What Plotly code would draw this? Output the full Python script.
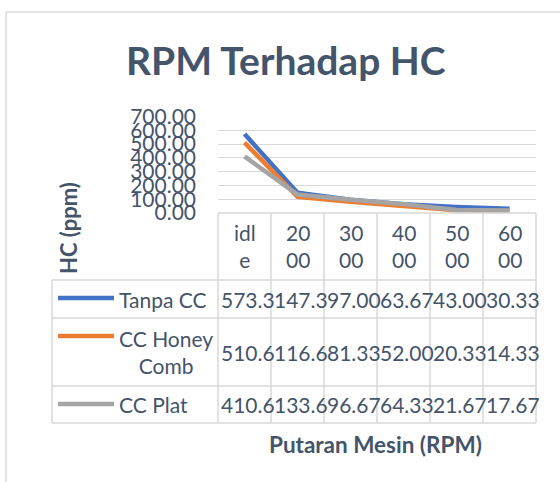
import plotly.graph_objects as go

# ---- data ----
categories = ["idle", "2000", "3000", "4000", "5000", "6000"]
header_labels = ["idl<br>e", "20<br>00", "30<br>00", "40<br>00", "50<br>00", "60<br>00"]
series_names = ["Tanpa CC", "CC Honey<br>Comb", "CC Plat"]
tanpa_cc = [573.33, 147.33, 97.00, 63.67, 43.00, 30.33]
cc_honey_comb = [510.67, 116.67, 81.33, 52.00, 20.33, 14.33]
cc_plat = [410.67, 133.67, 96.67, 64.33, 21.67, 17.67]
y_ticks = [0, 100, 200, 300, 400, 500, 600, 700]

series_values = [tanpa_cc, cc_honey_comb, cc_plat]
colors = ["#4472C4", "#ED7D31", "#A5A5A5"]

W, H = 560, 482
FONT = "Lato"
TXT = "#44546A"
GRID = "#D9D9D9"

def px(x):
    return x / W

def py(y):
    return 1 - y / H

# plot area in pixels
X0, X1 = 218, 536
Y_TOP, Y_BOT = 116.5, 213

fig = go.Figure()
xs = list(range(len(categories)))
for name, vals, c in zip(series_names, series_values, colors):
    fig.add_trace(go.Scatter(
        x=xs, y=vals, mode="lines", name=name.replace("<br>", " "),
        line=dict(color=c, width=4.5), showlegend=False, hoverinfo="skip"))

fig.update_layout(
    width=W, height=H,
    margin=dict(l=0, r=0, t=0, b=0, autoexpand=False),
    paper_bgcolor="white", plot_bgcolor="white",
    showlegend=False,
    font=dict(family=FONT, color=TXT),
    xaxis=dict(domain=[px(X0), px(X1)], range=[-0.5, len(categories) - 0.5],
               showgrid=False, zeroline=False, showticklabels=False,
               showline=False, fixedrange=True, automargin=False),
    yaxis=dict(domain=[py(Y_BOT), py(Y_TOP)], range=[0, 700],
               tickvals=y_ticks, tickformat=".2f",
               showgrid=True, gridcolor=GRID, gridwidth=1,
               zeroline=False, showline=False, automargin=False,
               tickfont=dict(family=FONT, size=21, color=TXT),
               ticklabelstandoff=21, fixedrange=True),
)

shapes = []
# chart border (top and left)
shapes.append(dict(type="line", xref="paper", yref="paper",
                   x0=px(6), x1=px(W + 5), y0=py(12), y1=py(12),
                   line=dict(color=GRID, width=1.5)))
shapes.append(dict(type="line", xref="paper", yref="paper",
                   x0=px(6), x1=px(6), y0=py(12), y1=py(H + 5),
                   line=dict(color=GRID, width=1.5)))

# table geometry
col_w = (X1 - X0) / len(categories)
row_edges = [Y_BOT, 280, 318, 386, 423]
TBL_L = 52
tbl_line = dict(color=GRID, width=1.5)
for i in range(len(categories) + 1):
    x = X0 + i * col_w
    shapes.append(dict(type="line", xref="paper", yref="paper",
                       x0=px(x), x1=px(x), y0=py(row_edges[0]), y1=py(row_edges[-1]),
                       line=tbl_line))
shapes.append(dict(type="line", xref="paper", yref="paper",
                   x0=px(X0), x1=px(X1), y0=py(row_edges[0]), y1=py(row_edges[0]),
                   line=tbl_line))
for y in row_edges[1:]:
    shapes.append(dict(type="line", xref="paper", yref="paper",
                       x0=px(TBL_L), x1=px(X1), y0=py(y), y1=py(y), line=tbl_line))
shapes.append(dict(type="line", xref="paper", yref="paper",
                   x0=px(TBL_L), x1=px(TBL_L), y0=py(row_edges[1]), y1=py(row_edges[-1]),
                   line=tbl_line))

def note(text, x, y, size, xanchor="center", angle=0, align="center"):
    return dict(text=text, xref="paper", yref="paper", x=px(x), y=py(y),
                xanchor=xanchor, yanchor="middle", showarrow=False,
                textangle=angle, align=align,
                font=dict(family=FONT, size=size, color=TXT))

annotations = []
annotations.append(note("<b>RPM Terhadap HC</b>", 285.5, 60, 39))
annotations.append(note("<b>HC (ppm)</b>", 68, 228, 22, angle=-90))
annotations.append(note("<b>Putaran Mesin (RPM)</b>", 376, 444, 22.5))

# header row
hdr_c = (row_edges[0] + row_edges[1]) / 2
for i, lab in enumerate(header_labels):
    annotations.append(note(lab, X0 + (i + 0.5) * col_w, hdr_c, 21))

# data rows
key_y = [298, 336, 404]
for r, (name, vals, c) in enumerate(zip(series_names, series_values, colors)):
    yc = (row_edges[r + 1] + row_edges[r + 2]) / 2
    shapes.append(dict(type="line", xref="paper", yref="paper",
                       x0=px(58), x1=px(114), y0=py(key_y[r]), y1=py(key_y[r]),
                       line=dict(color=c, width=4.5)))
    annotations.append(note(name, 117, yc, 21, xanchor="left"))
    for i, v in enumerate(vals):
        annotations.append(note(f"{v:.2f}"[:5], X0 + i * col_w + 0.5, yc, 21,
                                xanchor="left"))

fig.update_layout(shapes=shapes, annotations=annotations)
fig.write_html("out.html",
               config={"displayModeBar": False},
               post_script="document.body.style.margin='0';")
